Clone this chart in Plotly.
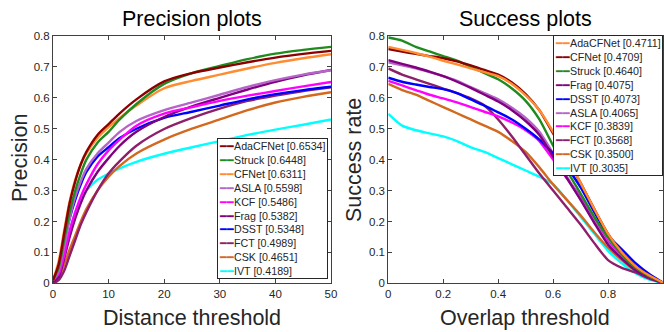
import plotly.graph_objects as go

# ---------------- data ----------------
dist_x = [0, 1, 2, 3, 4, 5, 6, 8, 10, 12, 15, 20, 25, 30, 35, 40, 45, 50]

prec_AdaCFNet = [0.01, 0.06, 0.16, 0.26, 0.33, 0.385, 0.425, 0.48, 0.515, 0.55, 0.595, 0.653, 0.68, 0.698, 0.715, 0.73, 0.742, 0.752]
prec_Struck   = [0.01, 0.05, 0.14, 0.23, 0.30, 0.355, 0.40, 0.455, 0.49, 0.53, 0.58, 0.645, 0.68, 0.703, 0.725, 0.743, 0.755, 0.765]
prec_CFNet    = [0.01, 0.07, 0.17, 0.265, 0.335, 0.385, 0.42, 0.47, 0.505, 0.535, 0.575, 0.631, 0.655, 0.675, 0.695, 0.713, 0.728, 0.741]
prec_ASLA     = [0.01, 0.04, 0.12, 0.21, 0.28, 0.33, 0.37, 0.42, 0.455, 0.49, 0.525, 0.56, 0.585, 0.61, 0.635, 0.657, 0.675, 0.689]
prec_KCF      = [0.01, 0.03, 0.09, 0.17, 0.23, 0.28, 0.32, 0.385, 0.43, 0.465, 0.51, 0.549, 0.57, 0.59, 0.607, 0.622, 0.637, 0.651]
prec_Frag     = [0.005, 0.02, 0.08, 0.15, 0.21, 0.26, 0.30, 0.36, 0.405, 0.445, 0.49, 0.538, 0.572, 0.60, 0.627, 0.652, 0.673, 0.69]
prec_DSST     = [0.01, 0.05, 0.13, 0.21, 0.27, 0.32, 0.36, 0.41, 0.44, 0.47, 0.50, 0.535, 0.555, 0.575, 0.595, 0.612, 0.625, 0.636]
prec_FCT      = [0.0, 0.01, 0.04, 0.09, 0.14, 0.19, 0.23, 0.30, 0.355, 0.395, 0.445, 0.499, 0.535, 0.565, 0.59, 0.607, 0.622, 0.634]
prec_CSK      = [0.005, 0.02, 0.06, 0.11, 0.155, 0.20, 0.24, 0.30, 0.345, 0.38, 0.42, 0.465, 0.50, 0.53, 0.56, 0.585, 0.603, 0.618]
prec_IVT      = [0.01, 0.05, 0.11, 0.17, 0.23, 0.27, 0.30, 0.335, 0.355, 0.372, 0.393, 0.419, 0.44, 0.46, 0.48, 0.497, 0.513, 0.53]

overlap_x = [0, 0.05, 0.1, 0.15, 0.2, 0.25, 0.3, 0.35, 0.4, 0.45, 0.5, 0.55, 0.6, 0.65, 0.7, 0.75, 0.8, 0.85, 0.9, 0.95, 1.0]

succ_AdaCFNet = [0.765, 0.755, 0.745, 0.733, 0.72, 0.708, 0.695, 0.683, 0.67, 0.645, 0.608, 0.56, 0.49, 0.41, 0.325, 0.24, 0.16, 0.10, 0.055, 0.025, 0.002]
succ_CFNet    = [0.758, 0.75, 0.742, 0.735, 0.728, 0.718, 0.705, 0.69, 0.675, 0.65, 0.612, 0.56, 0.485, 0.405, 0.325, 0.24, 0.16, 0.10, 0.055, 0.025, 0.002]
succ_Struck   = [0.795, 0.785, 0.765, 0.75, 0.735, 0.72, 0.70, 0.68, 0.66, 0.63, 0.59, 0.53, 0.445, 0.365, 0.29, 0.215, 0.148, 0.093, 0.05, 0.022, 0.002]
succ_Frag     = [0.722, 0.71, 0.698, 0.685, 0.67, 0.652, 0.632, 0.61, 0.588, 0.56, 0.525, 0.48, 0.41, 0.34, 0.27, 0.195, 0.125, 0.08, 0.042, 0.018, 0.001]
succ_DSST     = [0.665, 0.652, 0.643, 0.635, 0.628, 0.615, 0.595, 0.575, 0.553, 0.53, 0.50, 0.465, 0.42, 0.375, 0.31, 0.23, 0.155, 0.11, 0.065, 0.03, 0.002]
succ_ASLA     = [0.715, 0.705, 0.695, 0.683, 0.67, 0.655, 0.635, 0.615, 0.595, 0.568, 0.535, 0.49, 0.42, 0.345, 0.272, 0.20, 0.128, 0.082, 0.044, 0.019, 0.001]
succ_KCF      = [0.655, 0.64, 0.625, 0.61, 0.598, 0.585, 0.57, 0.555, 0.54, 0.52, 0.495, 0.46, 0.40, 0.34, 0.28, 0.205, 0.135, 0.085, 0.045, 0.02, 0.001]
succ_FCT      = [0.695, 0.675, 0.66, 0.645, 0.63, 0.615, 0.598, 0.575, 0.53, 0.475, 0.415, 0.355, 0.30, 0.245, 0.19, 0.13, 0.075, 0.05, 0.035, 0.015, 0.001]
succ_CSK      = [0.645, 0.625, 0.61, 0.59, 0.57, 0.55, 0.53, 0.51, 0.49, 0.46, 0.425, 0.375, 0.32, 0.27, 0.22, 0.165, 0.115, 0.075, 0.04, 0.018, 0.001]
succ_IVT      = [0.548, 0.51, 0.495, 0.485, 0.475, 0.46, 0.44, 0.425, 0.405, 0.385, 0.365, 0.345, 0.32, 0.27, 0.215, 0.16, 0.105, 0.065, 0.033, 0.012, 0.001]

prec_names  = ["AdaCFNet", "Struck", "CFNet", "ASLA", "KCF", "Frag", "DSST", "FCT", "CSK", "IVT"]
prec_scores = ["0.6534", "0.6448", "0.6311", "0.5598", "0.5486", "0.5382", "0.5348", "0.4989", "0.4651", "0.4189"]
succ_names  = ["AdaCFNet", "CFNet", "Struck", "Frag", "DSST", "ASLA", "KCF", "FCT", "CSK", "IVT"]
succ_scores = ["0.4711", "0.4709", "0.4640", "0.4075", "0.4073", "0.4065", "0.3839", "0.3568", "0.3500", "0.3035"]

x_ticks_prec = [0, 10, 20, 30, 40, 50]
x_ticks_succ = [0, 0.2, 0.4, 0.6, 0.8]
y_ticks = [0, 0.1, 0.2, 0.3, 0.4, 0.5, 0.6, 0.7, 0.8]

# ---------------- styles ----------------
C_DARKRED = "#8B0000"
C_ORANGE = "#FF8C30"
prec_colors = {"AdaCFNet": C_DARKRED, "Struck": "#1F8B1F", "CFNet": C_ORANGE, "ASLA": "#B565C8",
               "KCF": "#FF00FF", "Frag": "#800080", "DSST": "#0000FF", "FCT": "#8E1F6A",
               "CSK": "#D2691E", "IVT": "#00FFFF"}
succ_colors = dict(prec_colors)
succ_colors["AdaCFNet"] = C_ORANGE
succ_colors["CFNet"] = C_DARKRED

prec_data = {"AdaCFNet": prec_AdaCFNet, "Struck": prec_Struck, "CFNet": prec_CFNet, "ASLA": prec_ASLA,
             "KCF": prec_KCF, "Frag": prec_Frag, "DSST": prec_DSST, "FCT": prec_FCT,
             "CSK": prec_CSK, "IVT": prec_IVT}
succ_data = {"AdaCFNet": succ_AdaCFNet, "CFNet": succ_CFNet, "Struck": succ_Struck, "Frag": succ_Frag,
             "DSST": succ_DSST, "ASLA": succ_ASLA, "KCF": succ_KCF, "FCT": succ_FCT,
             "CSK": succ_CSK, "IVT": succ_IVT}

W, H = 664, 332
FONT = "Liberation Sans, Arial, Helvetica, sans-serif"
AX = "#404040"
TXT = "#262626"
TITLE_SIZE = 21.5

fig = go.Figure()

for n in reversed(prec_names):
    fig.add_trace(go.Scatter(x=dist_x, y=prec_data[n], mode="lines", name=n,
                             line=dict(color=prec_colors[n], width=2.4, shape="spline", smoothing=0.8),
                             xaxis="x", yaxis="y", showlegend=False, hoverinfo="skip"))
for n in reversed(succ_names):
    fig.add_trace(go.Scatter(x=overlap_x, y=succ_data[n], mode="lines", name=n,
                             line=dict(color=succ_colors[n], width=2.4, shape="spline", smoothing=0.6),
                             xaxis="x2", yaxis="y2", showlegend=False, hoverinfo="skip"))

def px_x(p):
    return p / W

def px_y(p):
    return (H - p) / H

ax_common = dict(showline=True, linecolor=AX, linewidth=1, mirror="ticks", ticks="inside",
                 ticklen=4, tickcolor=AX, showgrid=False, zeroline=False, automargin=False,
                 tickfont=dict(family=FONT, size=11.5, color=TXT))

fig.update_layout(
    width=W, height=H, margin=dict(l=0, r=0, t=0, b=0, pad=0, autoexpand=False),
    showlegend=False,
    paper_bgcolor="white", plot_bgcolor="white",
    xaxis=dict(domain=[px_x(53), px_x(331)], range=[0, 50], tickvals=x_ticks_prec, anchor="y", **ax_common),
    yaxis=dict(domain=[px_y(283.3), px_y(36)], range=[0, 0.8], tickvals=y_ticks, anchor="x", **ax_common),
    xaxis2=dict(domain=[px_x(388.3), px_x(663)], range=[0, 1], tickvals=x_ticks_succ, anchor="y2", **ax_common),
    yaxis2=dict(domain=[px_y(283.3), px_y(36)], range=[0, 0.8], tickvals=y_ticks, anchor="x2", **ax_common),
)

def legend_block(names, scores, colors):
    rows = []
    for n, s in zip(names, scores):
        rows.append(f'<span style="color:{colors[n]}">━━</span>{n} [{s}]')
    return "<br>".join(rows)

anns = [
    dict(text="Precision plots", x=px_x(192), y=px_y(19), xanchor="center", yanchor="middle",
         font=dict(family=FONT, size=TITLE_SIZE, color="black")),
    dict(text="Success plots", x=px_x(525), y=px_y(19), xanchor="center", yanchor="middle",
         font=dict(family=FONT, size=TITLE_SIZE, color="black")),
    dict(text="Distance threshold", x=px_x(192), y=px_y(317.5), xanchor="center", yanchor="middle",
         font=dict(family=FONT, size=TITLE_SIZE, color=TXT)),
    dict(text="Overlap threshold", x=px_x(525), y=px_y(317.5), xanchor="center", yanchor="middle",
         font=dict(family=FONT, size=TITLE_SIZE, color=TXT)),
    dict(text="Precision", x=px_x(20), y=px_y(158), xanchor="center", yanchor="middle", textangle=-90,
         font=dict(family=FONT, size=TITLE_SIZE, color=TXT)),
    dict(text="Success rate", x=px_x(354), y=px_y(160), xanchor="center", yanchor="middle", textangle=-90,
         font=dict(family=FONT, size=TITLE_SIZE, color=TXT)),
    dict(text=legend_block(prec_names, prec_scores, prec_colors), x=px_x(328), y=px_y(279),
         xanchor="right", yanchor="bottom", align="left", bgcolor="white", bordercolor=TXT,
         borderwidth=1, borderpad=1, font=dict(family=FONT, size=10.7, color=TXT)),
    dict(text=legend_block(succ_names, succ_scores, succ_colors), x=px_x(663), y=px_y(35),
         xanchor="right", yanchor="top", align="left", bgcolor="white", bordercolor=TXT,
         borderwidth=1, borderpad=1, font=dict(family=FONT, size=10.7, color=TXT)),
]
for a in anns:
    a.update(xref="paper", yref="paper", showarrow=False)
fig.update_layout(annotations=anns)

fig.write_html("out.html", config={"displayModeBar": False, "staticPlot": True},
               post_script="document.body.style.margin='0px';document.body.style.overflow='hidden';")
